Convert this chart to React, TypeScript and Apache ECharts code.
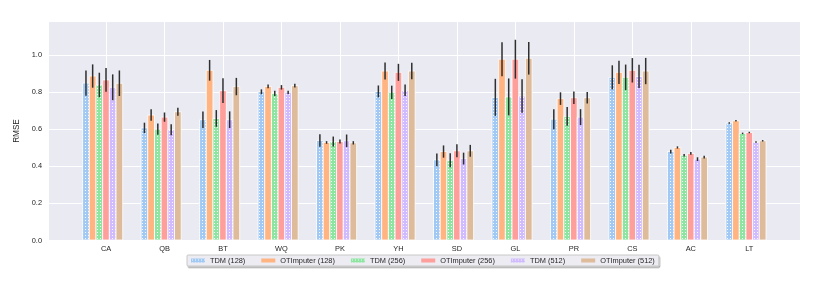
import React, { useEffect, useRef } from "react";
import * as echarts from "echarts";

const categories = ["CA", "QB", "BT", "WQ", "PK", "YH", "SD", "GL", "PR", "CS", "AC", "LT"];
const seriesNames = ["TDM (128)", "OTImputer (128)", "TDM (256)", "OTImputer (256)", "TDM (512)", "OTImputer (512)"];
const seriesColors = ["#a1c9f4", "#ffb482", "#8de5a1", "#ff9f9b", "#d0bbff", "#debb9b"];
const dotted = [true, false, true, false, true, false];

const tdm128 = [0.848, 0.606, 0.650, 0.801, 0.538, 0.803, 0.433, 0.771, 0.653, 0.879, 0.478, 0.632];
const ot128 = [0.886, 0.675, 0.917, 0.830, 0.527, 0.913, 0.478, 0.977, 0.764, 0.906, 0.500, 0.644];
const tdm256 = [0.838, 0.599, 0.657, 0.792, 0.532, 0.798, 0.431, 0.773, 0.668, 0.879, 0.458, 0.576];
const ot256 = [0.865, 0.664, 0.807, 0.825, 0.532, 0.906, 0.482, 0.977, 0.769, 0.917, 0.468, 0.581];
const tdm512 = [0.825, 0.596, 0.650, 0.798, 0.536, 0.809, 0.440, 0.778, 0.664, 0.884, 0.437, 0.529];
const ot512 = [0.847, 0.693, 0.829, 0.834, 0.525, 0.913, 0.482, 0.982, 0.769, 0.913, 0.448, 0.536];

const tdm128Err = [0.068, 0.028, 0.045, 0.013, 0.034, 0.032, 0.034, 0.100, 0.054, 0.065, 0.010, 0.004];
const ot128Err = [0.063, 0.031, 0.056, 0.010, 0.007, 0.046, 0.033, 0.092, 0.034, 0.063, 0.006, 0.004];
const tdm256Err = [0.066, 0.030, 0.045, 0.014, 0.027, 0.036, 0.038, 0.100, 0.051, 0.069, 0.007, 0.004];
const ot256Err = [0.064, 0.025, 0.067, 0.012, 0.011, 0.046, 0.035, 0.105, 0.034, 0.066, 0.007, 0.004];
const tdm512Err = [0.070, 0.030, 0.045, 0.009, 0.034, 0.031, 0.032, 0.090, 0.043, 0.063, 0.010, 0.004];
const ot512Err = [0.069, 0.022, 0.047, 0.010, 0.009, 0.045, 0.032, 0.088, 0.031, 0.071, 0.007, 0.004];

const yTicks = [0, 0.2, 0.4, 0.6, 0.8, 1.0];

const allValues = [tdm128, ot128, tdm256, ot256, tdm512, ot512];
const allErrors = [tdm128Err, ot128Err, tdm256Err, ot256Err, tdm512Err, ot512Err];

const FONT = "Liberation Sans, Arial, sans-serif";

function makePattern(color: string) {
  const c = document.createElement("canvas");
  c.width = 3;
  c.height = 3;
  const ctx = c.getContext("2d")!;
  ctx.fillStyle = color;
  ctx.fillRect(0, 0, 3, 3);
  ctx.fillStyle = "rgba(255,255,255,0.9)";
  ctx.fillRect(1, 1, 1, 1);
  return { image: c, repeat: "repeat" };
}

export default function App() {
  const ref = useRef<HTMLDivElement>(null);
  useEffect(() => {
    if (!ref.current) return;
    const chart = echarts.init(ref.current, undefined, { renderer: "svg" });
    const fills = seriesColors.map((c, i) => (dotted[i] ? makePattern(c) : c));

    const series = seriesNames.map((name, si) => ({
      name,
      type: "custom",
      itemStyle: { color: seriesColors[si] },
      data: categories.map((_, ci) => [ci, allValues[si][ci], allErrors[si][ci]]),
      renderItem: (params: any, api: any) => {
        const idx = api.value(0);
        const v = api.value(1);
        const e = api.value(2);
        const top = api.coord([idx, v]);
        const base = api.coord([idx, 0]);
        const band = api.size([1, 0])[0];
        const w = (band * 0.8) / 7;
        const cx = top[0] + (si - 3) * w;
        const lo = api.coord([idx, v - e]);
        const hi = api.coord([idx, v + e]);
        return {
          type: "group",
          children: [
            {
              type: "rect",
              shape: { x: cx - w / 2, y: top[1], width: w, height: base[1] - top[1] },
              style: { fill: fills[si] as any, stroke: "#ffffff", lineWidth: 0.8 },
            },
            {
              type: "line",
              shape: { x1: cx, y1: lo[1], x2: cx, y2: hi[1] },
              style: { stroke: "#2f2f2f", lineWidth: 1.5 },
            },
          ],
        };
      },
    }));

    chart.setOption({
      animation: false,
      textStyle: { fontFamily: FONT },
      grid: { left: 49, right: 22, top: 22, bottom: 50, show: true, backgroundColor: "#eaeaf2", borderWidth: 0 },
      legend: {
        data: seriesNames.map((n, i) => ({ name: n, itemStyle: { color: fills[i] as any } })),
        left: 187,
        top: 255,
        icon: "rect",
        itemWidth: 14,
        itemHeight: 4,
        itemGap: 16,
        padding: [2, 4, 2, 4],
        backgroundColor: "#ececf2",
        borderColor: "#c8c8c8",
        borderWidth: 1,
        borderRadius: 1,
        shadowColor: "rgba(0,0,0,0.35)",
        shadowBlur: 1.5,
        shadowOffsetX: 1,
        shadowOffsetY: 1.5,
        textStyle: { fontSize: 7.4, color: "#262626", fontFamily: FONT },
      },
      xAxis: {
        type: "value",
        min: -0.975,
        max: 11.867,
        axisLine: { show: false },
        axisTick: { show: false, customValues: categories.map((_, i) => i) },
        axisLabel: {
          customValues: categories.map((_, i) => i),
          formatter: (v: number) => categories[Math.round(v)] ?? "",
          fontSize: 7.4,
          color: "#262626",
          margin: 5,
          fontFamily: FONT,
        },
        splitLine: { show: true, lineStyle: { color: "#ffffff", width: 1 } },
      },
      yAxis: {
        type: "value",
        min: 0,
        max: 1.178,
        name: "RMSE",
        nameLocation: "middle",
        nameRotate: 90,
        nameGap: 15,
        nameTextStyle: { fontSize: 8.2, color: "#262626", fontFamily: FONT },
        axisLine: { show: false },
        axisTick: { show: false, customValues: yTicks },
        axisLabel: {
          customValues: yTicks,
          formatter: (v: number) => v.toFixed(1),
          fontSize: 7.4,
          color: "#262626",
          margin: 7,
          fontFamily: FONT,
        },
        splitLine: { show: true, lineStyle: { color: "#ffffff", width: 1 } },
      },
      series,
    } as any);
    return () => chart.dispose();
  }, []);
  return <div ref={ref} style={{ position: "fixed", left: 0, top: 0, width: 822, height: 290 }} />;
}
